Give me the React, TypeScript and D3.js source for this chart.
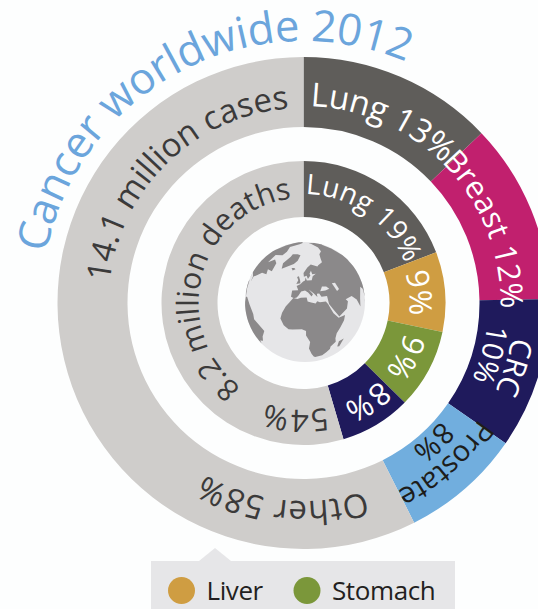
import React from "react";
import * as d3 from "d3";

// Ring shares, in percent, as printed on the rings
const caseNames = ["Lung", "Breast", "CRC", "Prostate", "Other"];
const caseValues = [13, 12, 10, 8, 58];
const caseColors = ["#5f5d5a", "#c1206e", "#1f1a5c", "#71aede", "#cfcdcb"];

const deathNames = ["Lung", "Liver", "Stomach", "CRC", "Other"];
const deathValues = [19, 9, 9, 8, 54];
const deathColors = ["#5f5d5a", "#cf9d42", "#7b973a", "#1f1a5c", "#cfcdcb"];

const legendNames = ["Liver", "Stomach"];
const legendColors = ["#cf9d42", "#7b973a"];

// Curved labels: text, baseline radius, middle angle in degrees clockwise from north, size, colour, tracking
const WHITE = "#ffffff";
const DARK = "#3b3a3a";
const curvedLabels: [string, number, number, number, string, number][] = [
  ["Cancer worldwide 2012", 262, -28, 43.5, "#6ba5dc", -0.4],
  ["14.1 million cases", 195, -44, 33, DARK, 0],
  ["Lung 13%", 197, 23.5, 33, WHITE, -0.2],
  ["Breast 12%", 197, 68, 31, WHITE, 0],
  ["CRC", 211, 107, 30, WHITE, 0],
  ["10%", 185, 105.5, 29, WHITE, 0],
  ["Prostate", 210, 138.5, 29, "#1d1d1b", -0.4],
  ["8%", 181, 137, 29, "#1d1d1b", 0],
  ["Other 58%", 198, 186, 33, DARK, 0.3],
  ["Lung 19%", 109, 35, 28, WHITE, 0.3],
  ["9%", 106, 85, 31, WHITE, 0],
  ["9%", 106, 118, 31, WHITE, 0],
  ["8%", 108, 147, 31, WHITE, 0],
  ["54%", 107, 184, 31, DARK, 0.3],
  ["8.2 million deaths", 105, 285, 30, DARK, 0.2],
];

// Rough continental outlines, [longitude, latitude]
const land: [number, number][][] = [
  [[-6,36],[-1,35.5],[3,37],[10,37.3],[11,33.5],[15,32.3],[20,31],[22,33],[25,31.7],[32,31.2],[34,28],[36,23],[38,18],[43,12],[51,12],[49,7],[44,1],[40,-4],[39,-10],[40,-15],[35,-20],[35,-24],[32,-28],[28,-33],[20,-35],[18,-33],[15,-27],[12,-18],[13,-9],[9,-1],[9,4],[5,6],[-4,5],[-8,4.5],[-13,8],[-17,14],[-16,20],[-13,27],[-10,31]],
  [[-9,37],[-9,43],[-1,44],[-4,48],[1,50],[5,53],[8,54],[9,57],[11,54],[19,54],[22,58],[29,60],[22,60],[21,64],[17,61],[18,59],[13,55.5],[11,59],[6,58],[5,62],[14,68],[25,71],[40,67],[44,68],[60,69],[70,73],[90,76],[113,74],[140,73],[170,70],[179,68],[170,60],[160,53],[156,58],[140,54],[130,43],[127,39],[126,35],[120,38],[122,30],[114,22],[108,20],[109,12],[104,9],[100,13],[103,2],[98,8],[97,16],[91,22],[80,15],[77,8],[73,18],[67,25],[57,26],[59,23],[55,17],[44,13],[39,21],[35,28],[35,36],[28,36.5],[26,40],[23,40],[23,37],[19,41],[13,45],[18,40],[16,38],[12,42],[8,44],[3,43],[0,39],[-2,37],[-5,36]],
  [[-168,66],[-156,71],[-125,70],[-95,72],[-82,68],[-94,60],[-82,52],[-78,60],[-65,60],[-56,52],[-66,50],[-60,46],[-70,43],[-75,37],[-81,31],[-80,25],[-83,30],[-90,29],[-97,26],[-95,18],[-87,21],[-83,15],[-78,9],[-85,10],[-95,16],[-105,20],[-114,30],[-124,40],[-124,48],[-135,58],[-150,60],[-165,55]],
  [[-78,9],[-72,12],[-62,10],[-52,5],[-50,0],[-35,-6],[-39,-15],[-41,-22],[-48,-26],[-53,-34],[-58,-38],[-65,-42],[-68,-52],[-72,-50],[-73,-37],[-70,-20],[-76,-14],[-81,-5],[-79,2]],
  [[-55,82],[-30,83],[-20,75],[-25,70],[-43,60],[-52,65],[-58,75],[-70,78]],
  [[-5,50],[1,51],[0,54],[-3,58],[-6,57],[-3,54]],
  [[-24,65],[-18,66],[-14,65],[-19,63]],
  [[44,-16],[50,-15],[47,-25],[44,-24]],
  [[130,31],[136,34],[141,37],[142,43],[140,40],[135,36]],
  [[95,5],[106,-3],[115,-8],[106,-7],[100,-2]],
];
// Inland seas, painted back over the land
const seas: [number, number][][] = [
  [[28,42],[32,46],[38,45],[41,42],[35,41.5]],
  [[48,46],[53,45],[54,38],[50,37],[49,41]],
];

const DEG = Math.PI / 180;
const cx = 303.5;
const cy = 303;

// Clockwise circular baseline centred on the label's middle angle
function labelPath(r: number, mid: number) {
  const a0 = (mid - 175) * DEG;
  const a1 = (mid + 175) * DEG;
  const x0 = cx + r * Math.sin(a0);
  const y0 = cy - r * Math.cos(a0);
  const x1 = cx + r * Math.sin(a1);
  const y1 = cy - r * Math.cos(a1);
  return `M${x0},${y0}A${r},${r} 0 1 1 ${x1},${y1}`;
}

// d3-geo takes the smaller side of a ring only when it winds clockwise
function landFeature(ring: [number, number][]) {
  const closed = [...ring, ring[0]];
  const g: any = { type: "Polygon", coordinates: [closed] };
  if (d3.geoArea(g) > 2 * Math.PI) g.coordinates = [closed.slice().reverse()];
  return g;
}

function Ring({ names, values, colors, inner, outer }: any) {
  const pie = d3.pie<number>().sort(null)(values);
  const arc = d3.arc<d3.PieArcDatum<number>>().innerRadius(inner).outerRadius(outer);
  return (
    <g transform={`translate(${cx},${cy})`}>
      {pie.map((d, i) => (
        <path key={names[i]} d={arc(d) as string} fill={colors[i]} />
      ))}
    </g>
  );
}

export default function App() {
  const projection = d3.geoOrthographic().rotate([-8, -33, 0]).translate([cx + 1.5, cy - 1]).scale(60).clipAngle(90);
  const geo = d3.geoPath(projection);
  return (
    <svg
      width={538}
      height={609}
      viewBox="0 0 538 609"
      style={{ position: "absolute", left: 0, top: 0, background: "#fdfefe", fontFamily: "'Open Sans', sans-serif" }}
    >
      <Ring names={caseNames} values={caseValues} colors={caseColors} inner={176} outer={246} />
      <Ring names={deathNames} values={deathValues} colors={deathColors} inner={86} outer={142} />

      <circle cx={cx + 1.5} cy={cy - 1} r={60} fill="#e6e6e8" />
      {land.map((ring, i) => (
        <path key={i} d={geo(landFeature(ring)) as string} fill="#8b898a" />
      ))}
      {seas.map((ring, i) => (
        <path key={i} d={geo(landFeature(ring)) as string} fill="#e6e6e8" />
      ))}

      <defs>
        {curvedLabels.map(([, r, mid], i) => (
          <path key={i} id={`label-${i}`} d={labelPath(r, mid)} fill="none" />
        ))}
      </defs>
      {curvedLabels.map(([text, , , size, color, tracking], i) => (
        <text key={i} fontSize={size} fill={color} textAnchor="middle" letterSpacing={tracking}>
          <textPath href={`#label-${i}`} startOffset="50%">
            {text}
          </textPath>
        </text>
      ))}

      <path d="M199,561L215,548L231,561Z" fill="#e6e6e8" />
      <rect x={151} y={561} width={304} height={48} fill="#e6e6e8" />
      {legendNames.map((name, i) => (
        <g key={name} transform={`translate(${i === 0 ? 181.5 : 307},590.5)`}>
          <circle r={13.5} fill={legendColors[i]} />
          <text x={25} y={9.5} fontSize={26} letterSpacing={-0.4} fill="#231f20">
            {name}
          </text>
        </g>
      ))}
    </svg>
  );
}
